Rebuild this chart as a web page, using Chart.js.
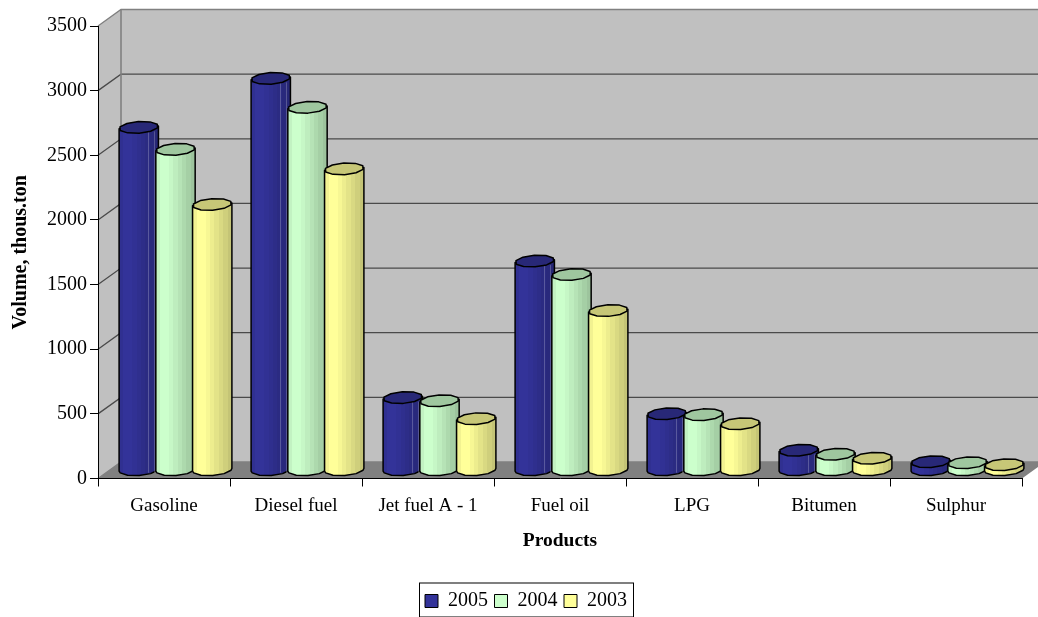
<!DOCTYPE html>
<html>
<head>
<meta charset="utf-8">
<style>html,body{margin:0;padding:0;background:#fff}canvas{display:block}</style>
<script src="https://cdn.jsdelivr.net/npm/chart.js@4"></script>
</head>
<body>
<canvas id="c" width="1038" height="617"></canvas>
<script>
const categories = ['Gasoline', 'Diesel fuel', 'Jet fuel A - 1', 'Fuel oil', 'LPG', 'Bitumen', 'Sulphur'];
const volumes2005 = [2652, 3031, 562, 1618, 437, 155, 66];
const volumes2004 = [2482, 2807, 538, 1514, 430, 124, 58];
const volumes2003 = [2056, 2331, 399, 1235, 360, 93, 43];
const seriesLabels = ['2005', '2004', '2003'];
const seriesRgb = [[51, 51, 153], [204, 255, 204], [255, 255, 153]];
const serif = '"Liberation Serif", "Times New Roman", serif';

// Oblique projection of the chart box: how far the back wall sits from the front plane.
const DEPTH_X = 23, DEPTH_Y = 16.5;
const TILT = -0.07, CAP_B = 5.8, OVERLAP = 2.6, SIDES = 10;
// Brightness of the facets around a cylinder, left to right.
const FACETS = [0.95, 1, 1, 0.97, 0.93, 0.89, 0.85, 0.81, 0.77];

const rgb = (c, k) => `rgb(${c.map(v => Math.round(v * k)).join(',')})`;

function ring(cx, cy, a, b) {
  const pts = [];
  for (let i = 0; i < SIDES; i++) {
    const t = (i + 0.5) / SIDES * Math.PI * 2;
    const x = a * Math.cos(t), y = b * Math.sin(t);
    pts.push([cx + x * Math.cos(TILT) - y * Math.sin(TILT), cy + x * Math.sin(TILT) + y * Math.cos(TILT)]);
  }
  return pts;
}

function drawCylinder(ctx, el, color, striped) {
  const cx = el.x + DEPTH_X / 2, a = (el.width + OVERLAP) / 2;
  const topY = el.y - DEPTH_Y / 2, botY = el.base - DEPTH_Y / 2;
  const left = cx - a, right = cx + a;
  const rise = a * Math.sin(TILT);

  const grad = ctx.createLinearGradient(left, 0, right, 0);
  FACETS.forEach((k, i) => {
    grad.addColorStop(i / FACETS.length, rgb(color, k));
    grad.addColorStop((i + 1) / FACETS.length, rgb(color, k));
  });

  ctx.lineJoin = 'round';
  ctx.lineWidth = 1.5;
  ctx.strokeStyle = '#000';

  // Body: down the left side, round the lower half of the base, back up the right.
  ctx.beginPath();
  ctx.moveTo(left, topY - rise);
  ctx.lineTo(left, botY - rise);
  ring(cx, botY, a, CAP_B)
    .filter(p => p[1] > botY + (p[0] - cx) * Math.tan(TILT))
    .sort((p, q) => p[0] - q[0])
    .forEach(p => ctx.lineTo(p[0], p[1]));
  ctx.lineTo(right, botY + rise);
  ctx.lineTo(right, topY + rise);
  ctx.closePath();
  ctx.fillStyle = grad;
  ctx.fill();
  ctx.stroke();

  // Thin highlights near the right edge of the dark series.
  if (striped && botY - topY > 12) {
    ctx.save();
    ctx.strokeStyle = 'rgba(255,255,255,0.22)';
    ctx.lineWidth = 1;
    [0.73, 0.9].forEach(f => {
      const sx = Math.round(left + f * 2 * a) + 0.5;
      ctx.beginPath(); ctx.moveTo(sx, topY + 4); ctx.lineTo(sx, botY + 3); ctx.stroke();
    });
    ctx.restore();
  }

  // Cap in a darker shade of the series colour.
  ctx.beginPath();
  ring(cx, topY, a, CAP_B).forEach((p, i) => i ? ctx.lineTo(p[0], p[1]) : ctx.moveTo(p[0], p[1]));
  ctx.closePath();
  ctx.fillStyle = rgb(color, 0.78);
  ctx.fill();
  ctx.stroke();
}

const boxPlugin = {
  id: 'box3d',
  // Side wall, back wall and floor behind the axes.
  beforeDraw(chart) {
    const { ctx, chartArea: ca, scales: { y } } = chart;
    const bx = ca.left + DEPTH_X, by = ca.top - DEPTH_Y, floorY = ca.bottom - DEPTH_Y;
    ctx.save();
    ctx.fillStyle = '#c0c0c0';
    ctx.fillRect(bx, by, ca.right + DEPTH_X - bx, floorY - by);
    ctx.beginPath();
    ctx.moveTo(ca.left, ca.top); ctx.lineTo(bx, by); ctx.lineTo(bx, floorY); ctx.lineTo(ca.left, ca.bottom);
    ctx.closePath(); ctx.fill();
    ctx.fillStyle = '#808080';
    ctx.beginPath();
    ctx.moveTo(ca.left, ca.bottom); ctx.lineTo(bx, floorY); ctx.lineTo(ca.right + DEPTH_X, floorY); ctx.lineTo(ca.right, ca.bottom);
    ctx.closePath(); ctx.fill();

    ctx.lineWidth = 1.3;
    y.ticks.forEach(t => {
      const py = y.getPixelForValue(t.value);
      const isEdge = t.value === y.max || t.value === y.min;
      ctx.strokeStyle = isEdge ? '#808080' : '#4a4a4a';
      ctx.beginPath();
      ctx.moveTo(ca.left, py); ctx.lineTo(bx, py - DEPTH_Y); ctx.lineTo(ca.right + DEPTH_X, py - DEPTH_Y);
      ctx.stroke();
    });
    ctx.strokeStyle = '#808080';
    ctx.lineWidth = 1.6;
    ctx.beginPath(); ctx.moveTo(bx, by); ctx.lineTo(bx, floorY); ctx.stroke();
    ctx.restore();
  },
  afterLayout(chart) {
    chart.legend.left += 15;
    chart.legend.right += 15;
    chart.legend.top += 5;
    chart.legend.bottom += 5;
  },
  // The flat bars are replaced by cylinders below.
  beforeDatasetDraw() { return false; },
  afterDatasetsDraw(chart) {
    const { ctx } = chart;
    ctx.save();
    categories.forEach((_, i) => {
      chart.data.datasets.forEach((ds, d) => {
        drawCylinder(ctx, chart.getDatasetMeta(d).data[i], seriesRgb[d], d === 0);
      });
    });
    ctx.restore();
  },
  // Frame around the legend.
  afterDraw(chart) {
    const { ctx, legend } = chart;
    ctx.save();
    ctx.strokeStyle = '#000';
    ctx.lineWidth = 1;
    ctx.strokeRect(419.5, legend.top - 1.5, 214, 34);
    ctx.restore();
  }
};

new Chart(document.getElementById('c'), {
  type: 'bar',
  plugins: [boxPlugin],
  data: {
    labels: categories,
    datasets: [volumes2005, volumes2004, volumes2003].map((values, d) => ({
      label: seriesLabels[d],
      data: values,
      backgroundColor: rgb(seriesRgb[d], 1),
      borderColor: '#000',
      borderWidth: 1,
      categoryPercentage: 0.835,
      barPercentage: 1
    }))
  },
  options: {
    responsive: false,
    animation: false,
    layout: { padding: { top: 26, right: 16, left: 0, bottom: 1 } },
    scales: {
      x: {
        grid: { drawOnChartArea: false, color: '#000', tickLength: 8, tickColor: '#000' },
        border: { color: '#000', width: 1 },
        ticks: { color: '#000', font: { family: serif, size: 19 }, padding: 8, maxRotation: 0 },
        title: { display: true, text: 'Products', color: '#000', font: { family: serif, size: 19.5, weight: 'bold' }, padding: { top: 10, bottom: 27 } },
        afterFit(scale) { scale.height = 101; }
      },
      y: {
        min: 0, max: 3500,
        grid: { drawOnChartArea: false, tickLength: 8, tickColor: '#000' },
        border: { color: '#000', width: 1 },
        ticks: {
          stepSize: 500, color: '#000', font: { family: serif, size: 20 }, padding: 3,
          callback: v => String(v)
        },
        title: { display: true, text: 'Volume, thous.ton', color: '#000', font: { family: serif, size: 20, weight: 'bold' }, padding: { top: 9, bottom: 0 } },
        afterFit(scale) { scale.width = 98; }
      }
    },
    plugins: {
      tooltip: { enabled: false },
      legend: {
        position: 'bottom',
        labels: { boxWidth: 13, boxHeight: 13, padding: 6.5, color: '#000', font: { family: serif, size: 20 } }
      }
    }
  }
});
</script>
</body>
</html>
